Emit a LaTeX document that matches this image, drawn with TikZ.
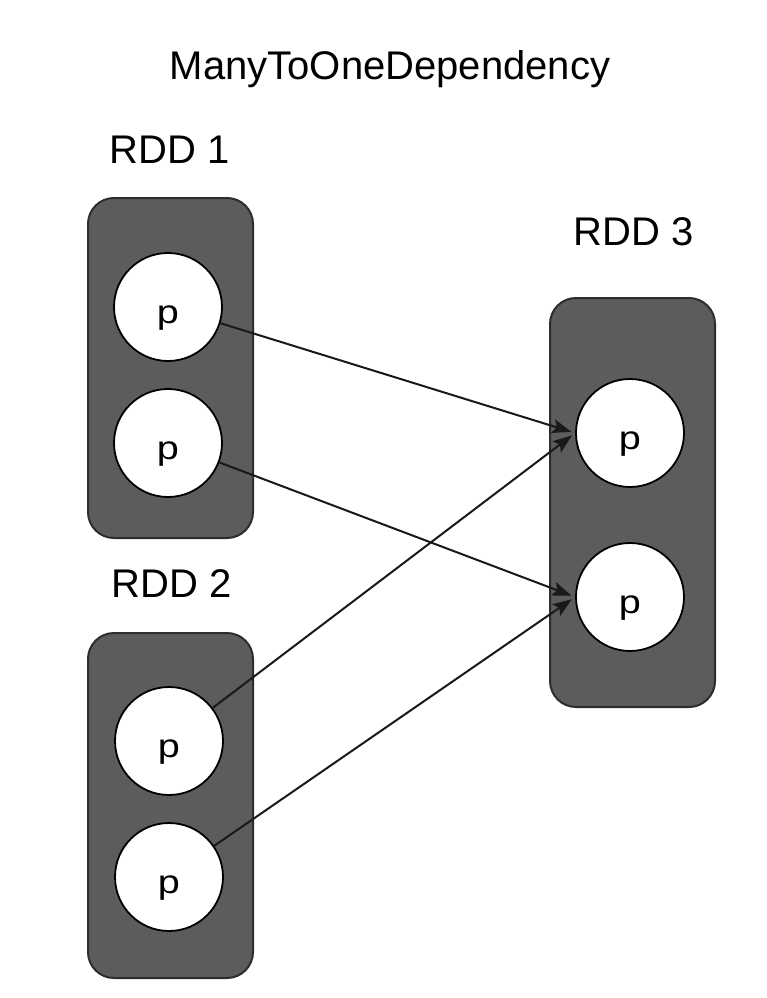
\documentclass[tikz,border=0pt]{standalone}
\usepackage{fontspec}
\setmainfont{Liberation Sans}
\usetikzlibrary{arrows.meta}
\definecolor{boxgray}{RGB}{92,92,92}
\definecolor{edgegray}{RGB}{45,45,45}
\newcommand{\plabel}{\raisebox{-16pt}[0pt][0pt]{\scalebox{1.2}[1]{p}}}
\tikzset{
  rddbox/.style={rectangle,rounded corners=26pt,fill=boxgray,draw=edgegray,line width=2pt,minimum width=165pt},
  part/.style={circle,fill=white,draw=black,line width=1.8pt,minimum size=108pt,inner sep=0pt,font=\fontsize{33}{38}\selectfont},
  rddlabel/.style={anchor=base,inner sep=0pt,font=\fontsize{40}{48}\selectfont},
  dep/.style={-{Stealth[length=19pt,width=14pt,inset=4pt]},line width=2pt,draw=black!90,shorten >=4pt}
}
\begin{document}
\begin{tikzpicture}[x=1pt,y=-1pt]
    \useasboundingbox (0,0) rectangle (766,998);
    \node[rddlabel] (title) at (390,80) {ManyToOneDependency};
    % the three RDDs
    \node[rddbox,minimum height=340pt] (rdd1) at (170.5,368) {};
    \node[rddbox,minimum height=345pt] (rdd2) at (170.5,805.5) {};
    \node[rddbox,minimum height=409pt] (rdd3) at (632.5,502.5) {};
    \node[rddlabel] (l1) at (170,163) {RDD 1};
    \node[rddlabel] (l2) at (172,597) {RDD 2};
    \node[rddlabel] (l3) at (634,245) {RDD 3};
    % partitions
    \node[part] (p11) at (168,307) {\plabel};
    \node[part] (p12) at (168,443) {\plabel};
    \node[part] (p21) at (169,741) {\plabel};
    \node[part] (p22) at (169,877) {\plabel};
    \node[part] (p31) at (630,433) {\plabel};
    \node[part] (p32) at (630,597) {\plabel};
    % dependencies
    \draw[dep] (p11) -- (p31.west);
    \draw[dep] (p12) -- (p32.west);
    \draw[dep] (p21) -- (p31.west);
    \draw[dep] (p22) -- (p32.west);
\end{tikzpicture}
\end{document}
